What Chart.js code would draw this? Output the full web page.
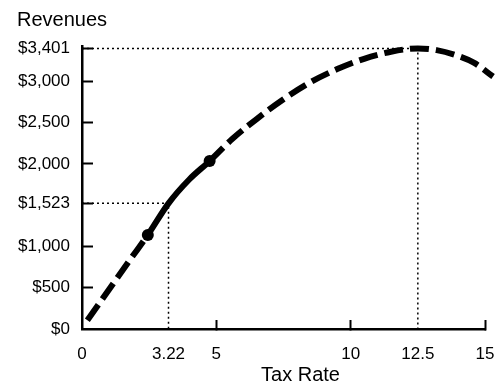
<!DOCTYPE html>
<html>
<head>
<meta charset="utf-8">
<script src="https://cdn.jsdelivr.net/npm/chart.js@4/dist/chart.umd.min.js"></script>
<style>
  html, body { margin: 0; padding: 0; background: #ffffff; }
  #wrap { width: 501px; height: 386px; }
</style>
</head>
<body>
<div id="wrap"><canvas id="c" width="501" height="386"></canvas></div>
<script>
// ---- data ----
const taxRates = [0.2, 1.0, 1.8, 2.45, 3.22, 4.0, 4.75, 5.6, 6.5, 7.5, 8.5, 9.5, 10.5, 11.5, 12.5, 13.2, 13.9, 14.6, 15.3];
const revenues = [105, 475, 845, 1140, 1523, 1815, 2035, 2305, 2545, 2785, 2990, 3150, 3275, 3360, 3401, 3380, 3320, 3225, 3060];
const markerRates = [2.45, 4.75];
const xTickValues = [0, 3.22, 5, 10, 12.5, 15];
const yTickValues = [0, 500, 1000, 1523, 2000, 2500, 3000, 3401];
const xTickMarks = [5, 10, 15];
const yTickMarks = [500, 1000, 1523, 2000, 2500, 3000, 3401];
const guideLow = { x: 3.22, y: 1523 };
const guidePeak = { x: 12.5, y: 3401 };
const xTitle = 'Tax Rate';
const yTitle = 'Revenues';

const FONT = '"Liberation Sans", Arial, Helvetica, sans-serif';

const curvePoints = taxRates.map((x, i) => ({ x: x, y: revenues[i] }));
const guideLowPts = [{ x: 0, y: guideLow.y }, { x: guideLow.x, y: guideLow.y }, { x: guideLow.x, y: 0 }];
const guidePeakPts = [{ x: 0, y: guidePeak.y }, { x: guidePeak.x, y: guidePeak.y }, { x: guidePeak.x, y: 0 }];

const titlePlugin = {
  id: 'titles',
  afterDraw(chart) {
    const ctx = chart.ctx;
    ctx.save();
    ctx.fillStyle = '#000';
    ctx.font = '20px ' + FONT;
    ctx.textBaseline = 'alphabetic';
    ctx.textAlign = 'left';
    ctx.fillText(yTitle, 17, 26);
    ctx.textAlign = 'center';
    ctx.fillText(xTitle, 300.5, 381);
    ctx.restore();
  }
};

new Chart(document.getElementById('c'), {
  type: 'line',
  data: {
    datasets: [
      {
        data: curvePoints,
        borderColor: '#000',
        backgroundColor: '#000',
        borderWidth: 6,
        borderCapStyle: 'butt',
        cubicInterpolationMode: 'monotone',
        pointRadius: (ctx) => markerRates.includes(ctx.raw && ctx.raw.x) ? 6 : 0,
        pointBorderWidth: 0,
        pointBackgroundColor: '#000',
        pointHoverRadius: 0,
        clip: false,
        segment: {
          borderDash: (ctx) => (ctx.p0.parsed.x >= markerRates[0] && ctx.p1.parsed.x <= markerRates[1]) ? [] : [19, 7]
        }
      },
      {
        data: guideLowPts,
        borderColor: '#000',
        borderWidth: 1.5,
        borderDash: [2, 3],
        pointRadius: 0,
        tension: 0
      },
      {
        data: guidePeakPts,
        borderColor: '#000',
        borderWidth: 1.5,
        borderDash: [2, 3],
        pointRadius: 0,
        tension: 0
      }
    ]
  },
  options: {
    responsive: false,
    devicePixelRatio: 1,
    animation: false,
    events: [],
    layout: { padding: { top: 46, right: 16, left: 0, bottom: 0 } },
    plugins: {
      legend: { display: false },
      title: { display: false },
      tooltip: { enabled: false }
    },
    scales: {
      x: {
        type: 'linear',
        min: 0,
        max: 15,
        afterBuildTicks: (s) => { s.ticks = xTickValues.map(v => ({ value: v })); },
        afterFit: (s) => { s.height = 57; s.paddingLeft = 0; s.paddingRight = 0; },
        ticks: {
          autoSkip: false,
          maxRotation: 0,
          minRotation: 0,
          padding: 24,
          color: '#000',
          font: { family: FONT, size: 17 },
          callback: (v) => String(v)
        },
        grid: {
          display: true,
          drawOnChartArea: false,
          drawTicks: true,
          tickLength: -9,
          tickWidth: 2,
          tickColor: (ctx) => (ctx.tick && xTickMarks.includes(ctx.tick.value)) ? '#000' : 'rgba(0,0,0,0)'
        },
        border: { display: true, color: '#000', width: 2.5 }
      },
      y: {
        type: 'linear',
        min: 0,
        max: 3430,
        afterBuildTicks: (s) => { s.ticks = yTickValues.map(v => ({ value: v })); },
        afterFit: (s) => { s.width = 82; s.paddingTop = 0; s.paddingBottom = 0; },
        ticks: {
          autoSkip: false,
          padding: 23,
          color: '#000',
          font: { family: FONT, size: 17 },
          callback: (v) => '$' + Number(v).toLocaleString('en-US')
        },
        grid: {
          display: true,
          drawOnChartArea: false,
          drawTicks: true,
          tickLength: -11,
          tickWidth: 2,
          tickColor: (ctx) => (ctx.tick && yTickMarks.includes(ctx.tick.value)) ? '#000' : 'rgba(0,0,0,0)'
        },
        border: { display: true, color: '#000', width: 2.5 }
      }
    }
  },
  plugins: [titlePlugin]
});
</script>
</body>
</html>
